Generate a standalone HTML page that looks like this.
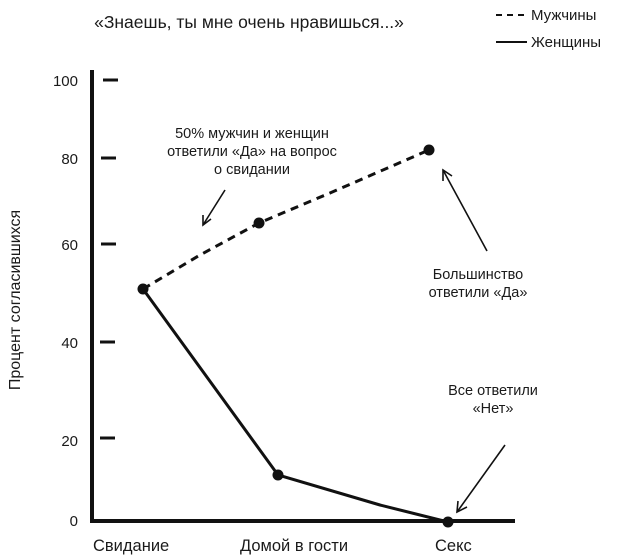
<!DOCTYPE html><html><head><meta charset="utf-8"><style>body{margin:0;background:#fff}svg{display:block}text{font-family:"Liberation Sans",sans-serif;fill:#1a1a1a}</style></head><body>
<svg width="624" height="557" viewBox="0 0 624 557">
<text x="249" y="28" font-size="17.5" text-anchor="middle">«Знаешь, ты мне очень нравишься...»</text>
<line x1="496" y1="15" x2="527" y2="15" stroke="#111" stroke-width="2" stroke-dasharray="6,5"/>
<text x="531" y="20" font-size="15">Мужчины</text>
<line x1="496" y1="42" x2="527" y2="42" stroke="#111" stroke-width="2"/>
<text x="531" y="47" font-size="15">Женщины</text>
<line x1="92" y1="70" x2="92" y2="521" stroke="#111" stroke-width="4"/>
<line x1="90" y1="521" x2="515" y2="521" stroke="#111" stroke-width="4"/>
<g stroke="#111" stroke-width="3">
<line x1="103" y1="80" x2="118" y2="80"/><line x1="101" y1="158" x2="116" y2="158"/><line x1="101" y1="244" x2="116" y2="244"/><line x1="100" y1="342" x2="115" y2="342"/><line x1="100" y1="438" x2="115" y2="438"/></g>
<g font-size="15" text-anchor="end"><text x="78" y="86">100</text><text x="78" y="164">80</text><text x="78" y="250">60</text><text x="78" y="348">40</text><text x="78" y="446">20</text><text x="78" y="526">0</text></g>
<text transform="translate(20,300) rotate(-90)" font-size="16" text-anchor="middle">Процент согласившихся</text>
<polyline points="143,289 200,255 259,223 330,193 429,150" fill="none" stroke="#111" stroke-width="3" stroke-dasharray="8,6"/>
<polyline points="143,289 278,475 380,505 448,522" fill="none" stroke="#111" stroke-width="3"/>
<g fill="#111"><circle cx="143" cy="289" r="5.5"/><circle cx="259" cy="223" r="5.5"/><circle cx="429" cy="150" r="5.5"/><circle cx="278" cy="475" r="5.5"/><circle cx="448" cy="522" r="5.5"/></g>
<g font-size="14.5" text-anchor="middle"><text x="252" y="138">50% мужчин и женщин</text><text x="252" y="156">ответили «Да» на вопрос</text><text x="252" y="174">о свидании</text>
<text x="478" y="279">Большинство</text><text x="478" y="297">ответили «Да»</text>
<text x="493" y="395">Все ответили</text><text x="493" y="413">«Нет»</text></g>
<g stroke="#111" stroke-width="1.6" fill="none">
<line x1="225" y1="190" x2="203" y2="225"/><polyline points="203,215 203,225 211,219"/>
<line x1="487" y1="251" x2="443" y2="170"/><polyline points="443,181 443,170 452,176"/>
<line x1="505" y1="445" x2="457" y2="512"/><polyline points="458,501 457,512 467,507"/></g>
<g font-size="16.5"><text x="93" y="551">Свидание</text><text x="240" y="551">Домой в гости</text><text x="435" y="551">Секс</text></g>
</svg></body></html>
